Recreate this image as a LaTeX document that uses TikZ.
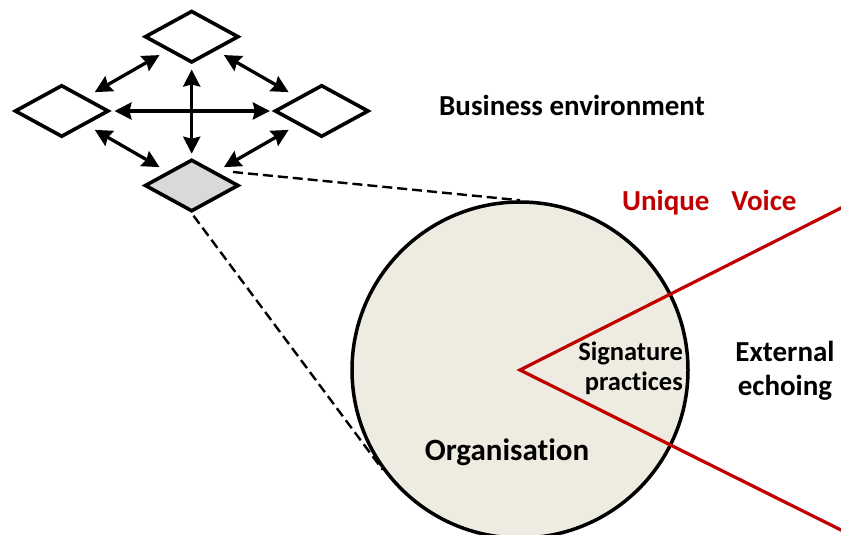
\documentclass[tikz,border=0pt]{standalone}
\usepackage{fontspec}
\setmainfont{Carlito}[Ligatures=NoCommon]
\usetikzlibrary{shapes.geometric,arrows.meta}
\definecolor{orgfill}{RGB}{238,235,224}
\definecolor{voicered}{RGB}{192,0,0}
\definecolor{firmgray}{RGB}{217,217,217}
\begin{document}
\begin{tikzpicture}[x=1pt,y=-1pt,
    firm/.style={diamond, draw, line width=3.6pt, minimum width=94pt, minimum height=52pt, inner sep=0pt, fill=white},
    link/.style={{Stealth[length=17pt,width=17pt,inset=2pt]}-{Stealth[length=17pt,width=17pt,inset=2pt]}, line width=3.3pt},
    zoomline/.style={line width=2.4pt, dash pattern=on 10pt off 5pt},
    lbl/.style={font=\bfseries\fontsize{29}{34}\selectfont, inner sep=0pt}]
	\useasboundingbox (0,0) rectangle (841,535);

	% the business network
	\node[firm] (top) at (191.7,36.7) {};
	\node[firm] (lft) at (61.7,111) {};
	\node[firm] (rgt) at (321.7,111) {};
	\node[firm, fill=firmgray] (bot) at (191.7,185.5) {};

	\draw[link, shorten <=10pt, shorten >=9pt] (lft.north east) -- (top.south west);
	\draw[link, shorten <=9pt, shorten >=10pt] (top.south east) -- (rgt.north west);
	\draw[link, shorten <=10pt, shorten >=9pt] (lft.south east) -- (bot.north west);
	\draw[link, shorten <=10pt, shorten >=9pt] (rgt.south west) -- (bot.north east);
	\draw[link, shorten <=4pt, shorten >=3pt] (lft.east) -- (rgt.west);
	\draw[link, shorten <=5pt, shorten >=4pt] (top.south) -- (bot.north);

	% zoom onto the organisation
	\node[circle, draw, line width=3.5pt, fill=orgfill, minimum size=336pt, inner sep=0pt] (org) at (520,370) {};
	\coordinate (tip) at (233,172);
	\draw[zoomline] (tip) -- (org.north);
	\draw[zoomline, shorten <=3pt] (bot.south) -- (org.216);

	% unique voice wedge
	\coordinate (vtop) at (845,206);
	\coordinate (vbot) at (845,532);
	\draw[voicered, line width=3.2pt] (vtop) -- (org.center) -- (vbot);

	\node[lbl, anchor=base] (env) at (572,115) {Business environment};
	\node[lbl, anchor=base west, text=voicered] (voice) at (622,210) {Unique\hspace{0.75em}Voice};
	\node[lbl, anchor=base east, align=right, font=\bfseries\fontsize{26.5}{30}\selectfont] (sig) at (683,390) {Signature\\practices};
	\node[lbl, anchor=base, align=center] (echo) at (785,395) {External\\echoing};
	\node[lbl, anchor=base, font=\bfseries\fontsize{31}{36}\selectfont] (orgname) at (507,460) {Organisation};
\end{tikzpicture}
\end{document}
